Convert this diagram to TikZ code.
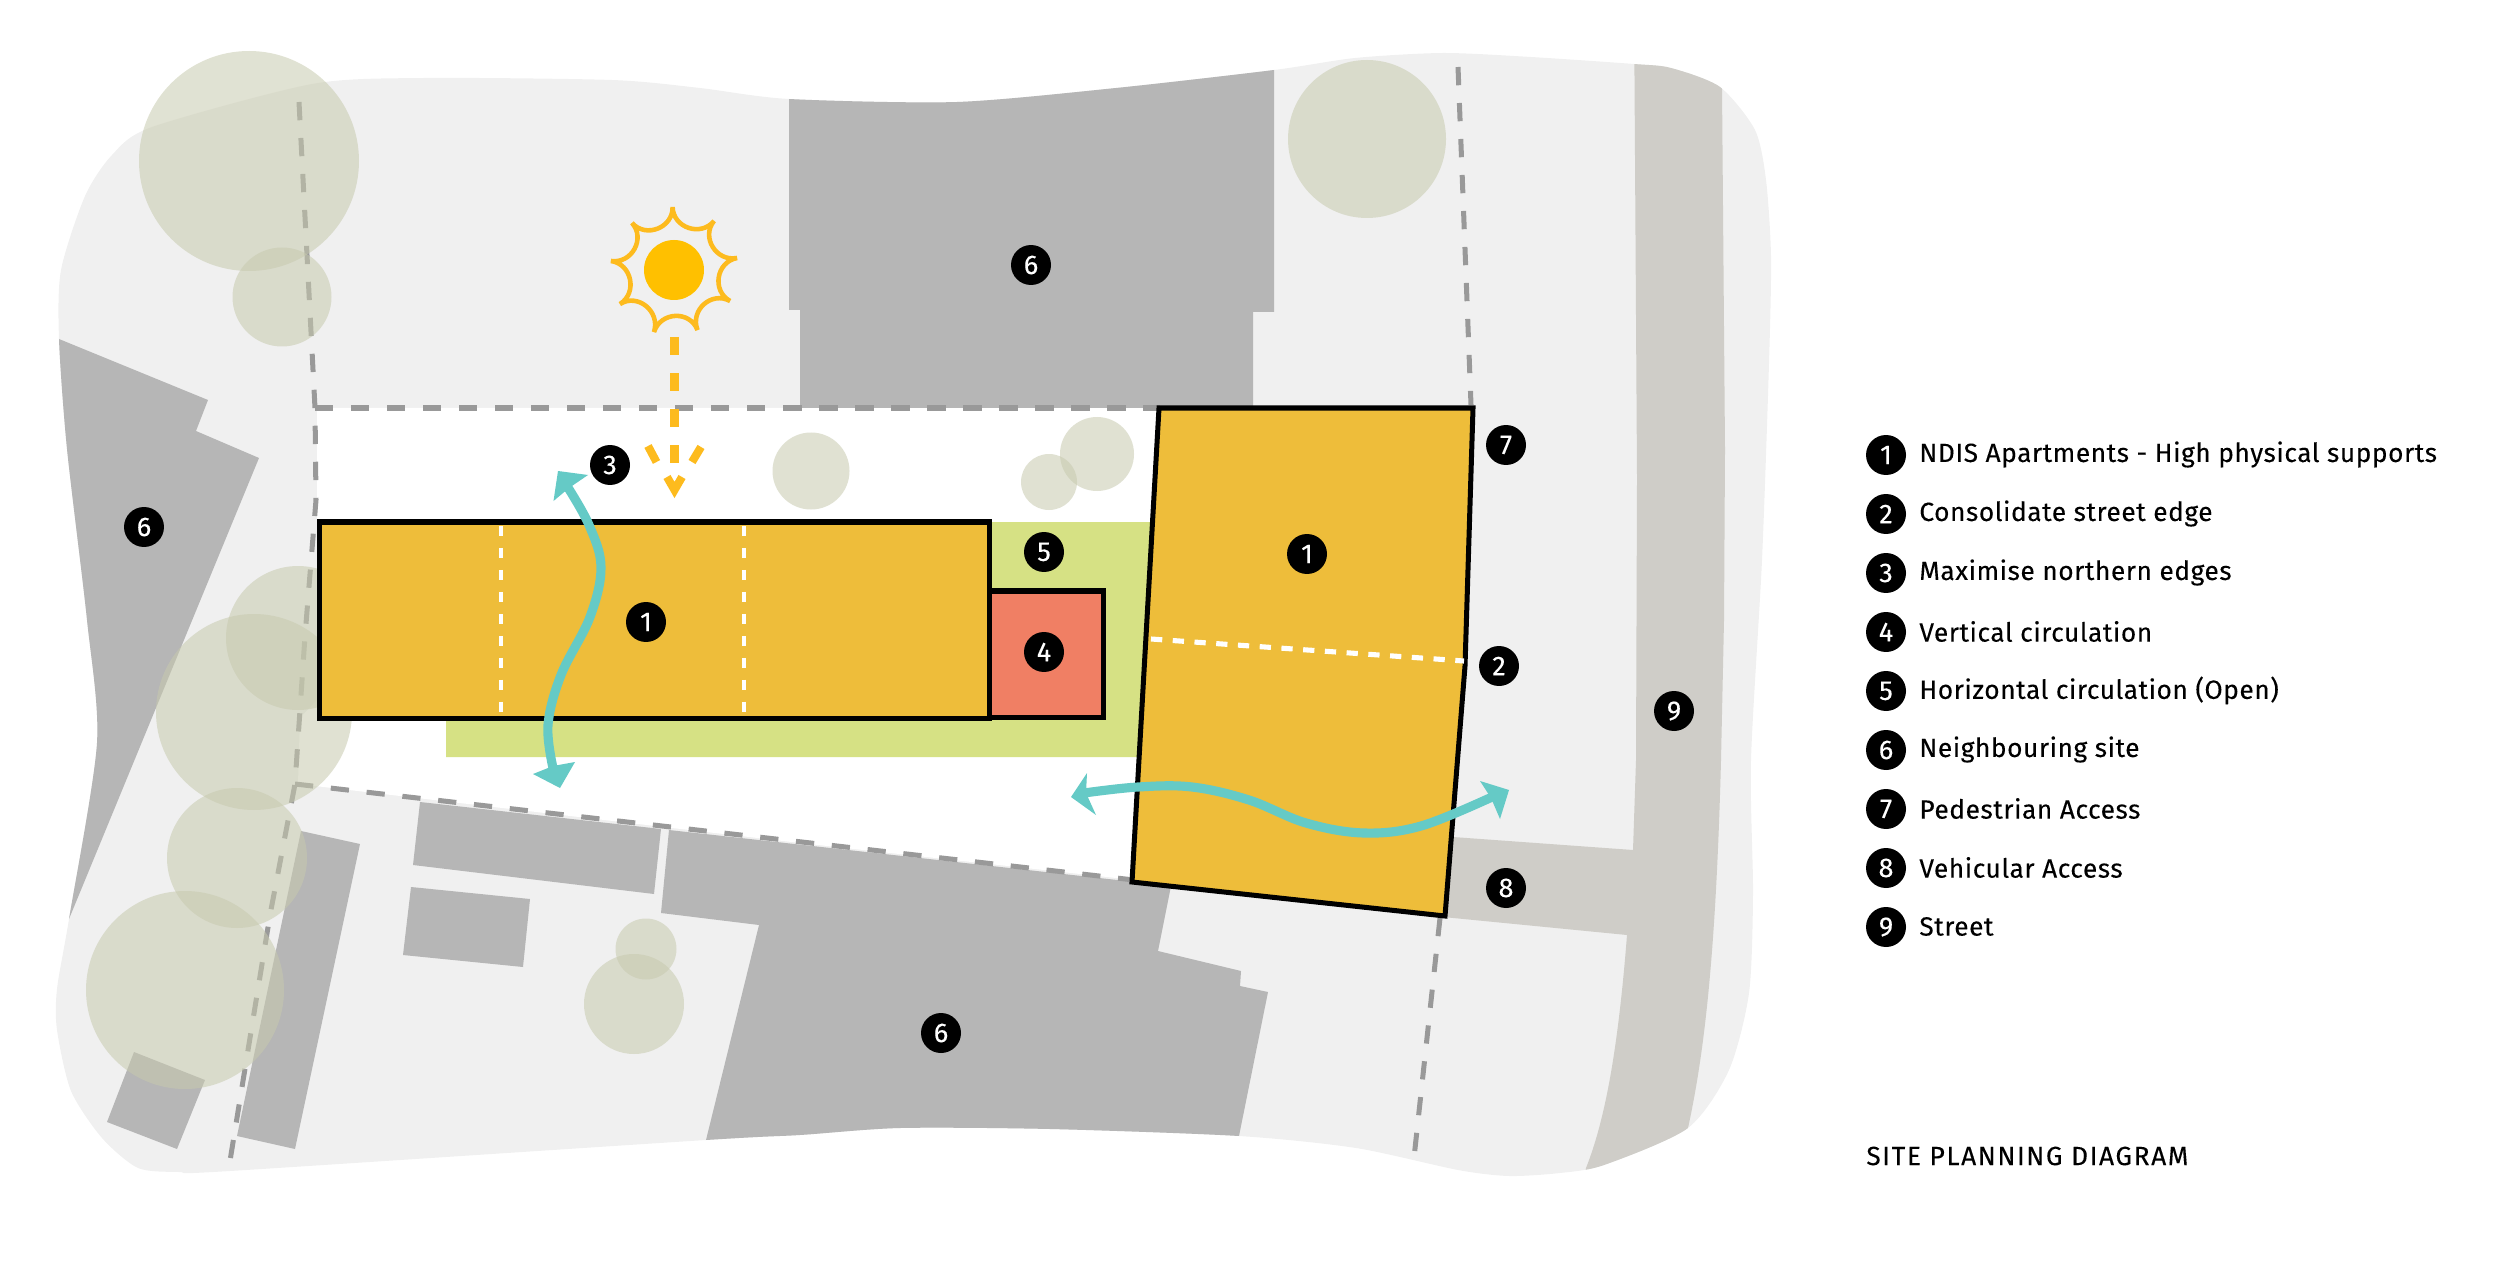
\documentclass[tikz,border=0pt]{standalone}
\usepackage{fontspec}
\setmainfont{Fira Sans}[FakeBold=0.12]
\newfontfamily\legendfont{Fira Sans}[LetterSpace=2,FakeBold=0.12]
\newfontfamily\titlefont{Fira Sans}[LetterSpace=6,FakeBold=0.12]
\usetikzlibrary{calc}
\definecolor{blobc}{HTML}{F0F0F0}
\definecolor{grayb}{HTML}{B6B6B6}
\definecolor{streetc}{HTML}{CFCDC8}
\definecolor{greenc}{HTML}{D6E184}
\definecolor{yellowc}{HTML}{EEBD3A}
\definecolor{redc}{HTML}{F07F64}
\definecolor{treec}{HTML}{C7CAAE}
\definecolor{dashc}{HTML}{999999}
\definecolor{sunc}{HTML}{FDBB1E}
\definecolor{sundisc}{HTML}{FFC000}
\definecolor{tealc}{HTML}{65CAC6}
\tikzset{
  blobfill/.style={fill=blobc},
  bldg/.style={fill=grayb},
  streetfill/.style={fill=streetc},
  tree/.style={fill=treec,fill opacity=0.55},
  sitedash/.style={draw=dashc,line width=2.85pt,dash pattern=on 10.4pt off 10.1pt},
  whitedash/.style={draw=white,line width=2.6pt,dash pattern=on 5.7pt off 6.8pt},
  mass/.style={fill=yellowc,draw=black,line width=2.85pt,line join=miter},
  sunline/.style={draw=sunc,line width=2.6pt,line join=miter},
  sundash/.style={draw=sunc,line width=4.6pt},
  flow/.style={draw=tealc,line width=5.2pt},
  flowhead/.style={fill=tealc},
  num/.style={circle,fill=black,text=white,minimum size=0.8cm,inner sep=0pt,font=\fontsize{15.5}{15.5}\selectfont},
  legend/.style={anchor=west,inner sep=0pt,font=\legendfont\fontsize{15}{17}\selectfont},
  title/.style={anchor=west,inner sep=0pt,font=\titlefont\fontsize{15}{17}\selectfont}
}
\begin{document}
\begin{tikzpicture}[x=0.02cm,y=-0.02cm]
\useasboundingbox (0,0) rectangle (2500,1263);
\def\blobpath{plot[smooth cycle,tension=0.45] coordinates {(59,339)(61,270)(85,196)(112,155)(152,127)(312,84)(424,78)(612,80)(700,88)(789,99)(957,102)(1116,88)(1274,70)(1355,58)(1443,53)(1531,57)(1634,64)(1671,68)(1720,87)(1755,130)(1766,180)(1771,257)(1769,363)(1762,560)(1751,760)(1753,893)(1749,993)(1729,1070)(1688,1128)(1604,1165)(1560,1173)(1509,1176)(1458,1170)(1356,1148)(1239,1136)(1050,1129)(900,1128)(800,1135)(706,1140)(230,1171)(179,1172)(138,1168)(102,1138)(71,1091)(57,1030)(57,989)(69,919)(97,743)(87,620)(67,449)}}
% ground
\fill[blobfill] \blobpath;
\fill[white] (317,408) -- (1170,408) -- (1134,880) -- (800,843) -- (298,784) -- (300,718) -- (317,700) -- cycle;
\begin{scope}
\clip \blobpath;
% street
\fill[streetfill] (1634,0) -- (1722,0) -- (1722,88) -- (1725,450) -- (1724,620) -- (1721,760) .. controls (1716,950) and (1705,1050) .. (1688,1128) -- (1688,1263) -- (1570,1263) -- (1586,1168) .. controls (1605,1120) and (1618,1050) .. (1627,935) -- (1443,917) -- (1453,837) -- (1633,850) -- (1636,760) -- (1637,478) -- cycle;
% neighbouring buildings
\fill[bldg] (789,0) -- (1274,0) -- (1274,312) -- (1253,312) -- (1253,408) -- (800,408) -- (800,310) -- (789,310) -- cycle;
\fill[bldg] (0,300) -- (59,339) -- (208,400) -- (196,431) -- (259,458) -- (69,919) -- (0,919) -- cycle;
\fill[bldg] (669,830) -- (1171,886) -- (1158,951) -- (1241,971) -- (1240,986) -- (1268,992) -- (1239,1136) -- (1239,1263) -- (690,1263) -- (706,1140) -- (759,925) -- (661,913) -- cycle;
\fill[bldg] (420,802) -- (661,829) -- (654,894) -- (413,865) -- cycle;
\fill[bldg] (411,887) -- (530,899) -- (523,967) -- (403,955) -- cycle;
\fill[bldg] (301,831) -- (360,844) -- (295,1149) -- (237,1136) -- cycle;
\fill[bldg] (134,1052) -- (205,1080) -- (177,1149) -- (107,1122) -- cycle;
\end{scope}
% circulation ground
\fill[greenc] (989,522) -- (1155,522) -- (1138,757) -- (446,757) -- (446,718) -- (989,718) -- cycle;
% site boundary
\coordinate (bTL) at (315,408);
\coordinate (bTR) at (1160,408);
\coordinate (bBL) at (295,784);
\coordinate (bBR) at (1134,880);
\draw[sitedash] (299,102) -- (bTL) -- (316,500) -- (305,636) -- (bBL) -- (270,915) -- (229,1167);
\draw[sitedash] (bTL) -- (bTR);
\draw[sitedash] (bBL) -- (bBR);
\draw[sitedash] (1458,67) -- (1471,405);
\draw[sitedash] (1440,918) -- (1413,1167);
% trees
\fill[tree] (249,161) circle (110);
\fill[tree] (282,297) circle (49.5);
\fill[tree] (298,638) circle (72);
\fill[tree] (254,712) circle (98);
\fill[tree] (237,858) circle (70);
\fill[tree] (185,990) circle (99);
\fill[tree] (646,949) circle (30.5);
\fill[tree] (634,1004) circle (50);
\fill[tree] (811,471) circle (38.5);
\fill[tree] (1097,454) circle (37);
\fill[tree] (1049,482) circle (28);
\fill[tree] (1367,139) circle (79);
% masses
\path[mass] (319,522) rectangle (989,718);
\draw[whitedash] (501,526) -- (501,714);
\draw[whitedash] (744,526) -- (744,714);
\path[mass,fill=redc] (989,591) rectangle (1103,717);
\path[mass] (1159,408) -- (1473,408) -- (1465,666) -- (1445,916) -- (1132,882) -- cycle;
\draw[white,line width=2.9pt,dash pattern=on 6.4pt off 6pt] (1151,639) -- (1464,661);
% sun
\coordinate (sc) at (674,270);
\coordinate (s1) at (672.6,207);
\coordinate (s2) at (714,221);
\coordinate (s3) at (737,258);
\coordinate (s4) at (730,301);
\coordinate (s5) at (697.5,330);
\coordinate (s6) at (654,332);
\coordinate (s7) at (620,304);
\coordinate (s8) at (611,261);
\coordinate (s9) at (632,223);
\fill[sundisc] (sc) circle (30);
\draw[sunline] (s1) \foreach \a/\b in {1/2,2/3,3/4,4/5,5/6,6/7,7/8,8/9,9/1} { .. controls ($(s\a)!0.33!(sc)$) and ($(s\b)!0.33!(sc)$) .. (s\b) } -- cycle;
% sun arrow
\coordinate (ra) at (674.5,337);
\coordinate (rb) at (674.5,463);
\draw[sundash,dash pattern=on 10.4pt off 10.1pt] (ra) -- (rb);
\draw[sundash] (648,446) -- (656.5,462);
\draw[sundash] (701,447) -- (692,462);
\draw[sundash] (667,477) -- (674.5,490) -- (682,477);
% flows
\draw[flow] plot[smooth,tension=0.6] coordinates {(567,486)(589,525)(601,567)(590,617)(561,675)(548,725)(553,768)};
\fill[flowhead] (558,471) -- (588,475) -- (569,488) -- (553.5,501) -- cycle;
\fill[flowhead] (560,788) -- (533,774) -- (553,766) -- (575,762) -- cycle;
\draw[flow] plot[smooth,tension=0.6] coordinates {(1084,793)(1138,787)(1192,787)(1249,800)(1306,823)(1364,833)(1421,826)(1492,797)};
\fill[flowhead] (1071,797) -- (1087,773) -- (1086,793) -- (1096,815) -- cycle;
\fill[flowhead] (1509,790) -- (1480,781) -- (1491,798) -- (1500,819) -- cycle;
% numbered markers
\node[num] (m1a) at (646,622) {1};
\node[num] (m1b) at (1307,554) {1};
\node[num] (m2) at (1499,666) {2};
\node[num] (m3) at (610,465) {3};
\node[num] (m4) at (1044,652) {4};
\node[num] (m5) at (1044,552) {5};
\node[num] (m6a) at (1031,265) {6};
\node[num] (m6b) at (144,527) {6};
\node[num] (m6c) at (941,1033) {6};
\node[num] (m7) at (1506,445) {7};
\node[num] (m8) at (1506,888) {8};
\node[num] (m9) at (1674,711) {9};
% legend
\node[num] (l1) at (1886,455) {1};
\node[num] (l2) at (1886,514) {2};
\node[num] (l3) at (1886,573) {3};
\node[num] (l4) at (1886,632) {4};
\node[num] (l5) at (1886,691) {5};
\node[num] (l6) at (1886,750) {6};
\node[num] (l7) at (1886,809) {7};
\node[num] (l8) at (1886,868) {8};
\node[num] (l9) at (1886,927) {9};
\node[legend] (t1) at (1919,454.5) {NDIS Apartments - High physical supports};
\node[legend] (t2) at (1919,513.5) {Consolidate street edge};
\node[legend] (t3) at (1919,572.5) {Maximise northern edges};
\node[legend] (t4) at (1919,631.5) {Vertical circulation};
\node[legend] (t5) at (1919,690.5) {Horizontal circulation (Open)};
\node[legend] (t6) at (1919,749.5) {Neighbouring site};
\node[legend] (t7) at (1919,808.5) {Pedestrian Access};
\node[legend] (t8) at (1919,867.5) {Vehicular Access};
\node[legend] (t9) at (1919,926.5) {Street};
\node[title] (tt) at (1866,1156) {SITE PLANNING DIAGRAM};
\end{tikzpicture}
\end{document}
